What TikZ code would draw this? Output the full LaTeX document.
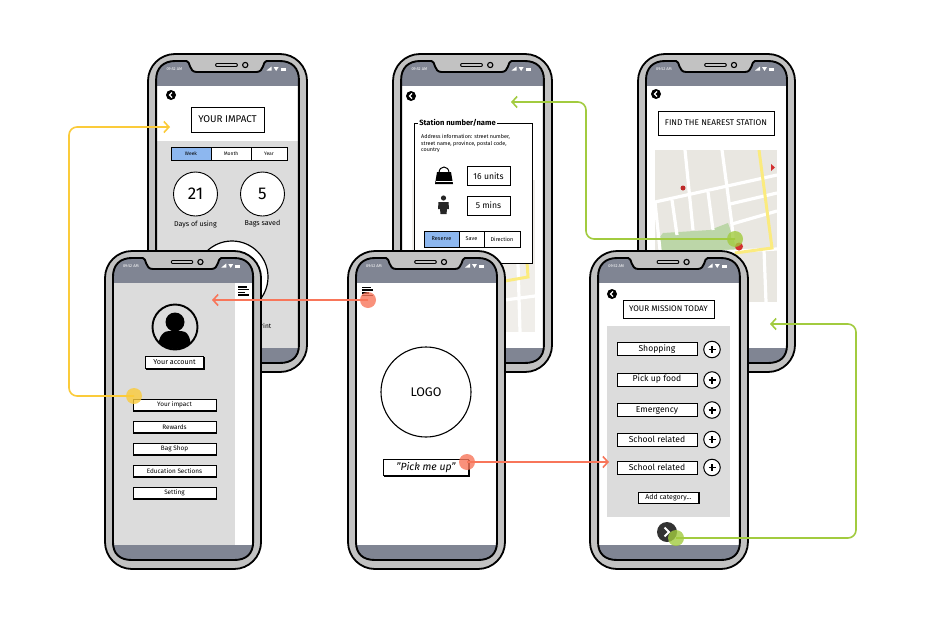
\documentclass[tikz,border=0pt]{standalone}
\usepackage{fontspec}
\setmainfont{Fira Sans}
\usetikzlibrary{arrows.meta,shadows,calc}
\definecolor{bezel}{HTML}{C2C2C2}
\definecolor{barc}{HTML}{808593}
\definecolor{panelc}{HTML}{DCDCDC}
\definecolor{bluec}{HTML}{8DB7EF}
\definecolor{mapc}{HTML}{E9E7E1}
\definecolor{parkc}{HTML}{BCD6A8}
\definecolor{roadc}{HTML}{FBEB7E}
\definecolor{redc}{HTML}{D32F2F}
\definecolor{yellowl}{HTML}{FBCB3A}
\definecolor{redl}{HTML}{F8765A}
\definecolor{greenl}{HTML}{A2CB3F}
\tikzset{
 fs/.style={font=\fontsize{#1}{#1}\selectfont},
 titlebox/.style={draw=black,line width=1pt,fill=white,inner sep=0pt},
 btn/.style={draw=black,line width=.8pt,fill=white,inner sep=0pt,
   copy shadow={draw=black,fill=black,opacity=1,shadow xshift=.8pt,shadow yshift=-.8pt}},
 seg/.style={draw=black,line width=.7pt,fill=white,inner sep=0pt,minimum height=13pt,fs=5},
 dotn/.style={circle,minimum size=16pt,inner sep=0pt,fill opacity=.8},
 flow/.style={line width=1.6pt,rounded corners=8pt,-{Straight Barb[length=5pt,width=11pt,line width=1.6pt]}},
 road/.style={white,line width=3.2pt},
}
\newcommand{\screenpath}{(8,26) .. controls (8,14) and (15,7) .. (27,7) -- (38,7)
  .. controls (42,7) and (40,18) .. (48,18) -- (107,18)
  .. controls (115,18) and (113,7) .. (117,7) -- (130,7)
  .. controls (142,7) and (149,14) .. (149,26) -- (149,291)
  .. controls (149,303) and (142,309) .. (130,309) -- (27,309)
  .. controls (15,309) and (8,303) .. (8,291) -- cycle}
\newcommand{\phonebase}[3]{%
 \begin{scope}[shift={(#1,#2)},xscale=#3]
  \foreach \a/\b in {46/58,64/87,92/115}{\draw[line width=2.2pt] (0,\a) -- (0,\b);}
  \draw[line width=2.2pt] (157,72) -- (157,94);
  \draw[line width=1.8pt,fill=bezel,rounded corners=27pt] (0,0) rectangle (157,318);
  \fill[white] \screenpath;
 \end{scope}}
\newcommand{\phonetop}[3]{%
 \begin{scope}[shift={(#1,#2)},xscale=#3]
  \begin{scope}
   \clip \screenpath;
   \fill[barc] (0,0) rectangle (157,32);
   \fill[barc] (0,294) rectangle (157,318);
  \end{scope}
  \draw[line width=1.9pt] \screenpath;
  \draw[line width=3.6pt,line cap=round] (68,11) -- (87,11);
  \draw[line width=1.4pt,bezel,line cap=round] (68,11) -- (87,11);
  \draw[line width=1.1pt,fill=bezel] (96,11) circle[radius=2.6];
  \node[white,fs=4,inner sep=0pt] at (26,15) {09:52 AM};
  \fill[white] (117,16.5) -- (122,16.5) -- (122,12.5) -- cycle;
  \fill[white] (124,13) -- (129,13) -- (126.5,17) -- cycle;
  \fill[white] (131,13.5) rectangle (136,16.5);
 \end{scope}}
\newcommand{\backicon}[2]{%
 \fill (#1,#2) circle[radius=5];
 \draw[white,line width=1.3pt] (#1+1,#2-2.5) -- (#1-1.5,#2) -- (#1+1,#2+2.5);}
\newcommand{\menuicon}[2]{%
 \draw[line width=1.5pt] (#1-5.5,#2-4) -- (#1+3,#2-4) (#1-5.5,#2-1.3) -- (#1+5.5,#2-1.3)
   (#1-5.5,#2+1.3) -- (#1+1.5,#2+1.3) (#1-5.5,#2+4) -- (#1+5.5,#2+4);}
\begin{document}
\begin{tikzpicture}[x=1pt,y=-1pt]
\path[use as bounding box,fill=white] (0,0) rectangle (927,624);
% ---- phone 1: impact
\phonebase{148}{54}{1.013}
\fill[panelc] (156,141) rectangle (299,350);
\backicon{171}{95}
\node[titlebox,minimum width=73pt,minimum height=25pt,fs=9.8] (impacttitle) at (227.5,119.5) {YOUR IMPACT};
\node[seg,fill=bluec,minimum width=40pt] (week) at (191,153.5) {Week};
\node[seg,minimum width=40pt] (month) at (231,153.5) {Month};
\node[seg,minimum width=36pt] (year) at (269,153.5) {Year};
\draw[line width=1.2pt] (287.3,147) -- (287.3,160.5) -- (172,160.5);
\node[circle,draw,fill=white,line width=.9pt,minimum size=44pt,inner sep=0pt,fs=17] (days) at (195.5,194) {21};
\node[circle,draw,fill=white,line width=.9pt,minimum size=44pt,inner sep=0pt,fs=17] (bags) at (262.5,194) {5};
\node[fs=7.1,inner sep=0pt] (dayslbl) at (195.5,224) {Days of using};
\node[fs=7.1,inner sep=0pt] (bagslbl) at (262.5,224) {Bags saved};
\node[circle,draw,fill=white,line width=1.2pt,minimum size=72pt,inner sep=0pt] (bigc) at (232,277) {};
\node[fs=6.6,inner sep=0pt] (rintlbl) at (266,325.5) {rint};
\phonetop{148}{54}{1.013}
% ---- phone 2: station
\phonebase{393}{54}{1.013}
\fill[mapc!70!white] (412,180) rectangle (535,332);
\draw[road] (505,300) -- (535,296);
\draw[road] (518,263) -- (520,332);
\draw[roadc,line width=3pt] (527,262) -- (528,277) -- (505,281);
\node[draw=black,line width=.9pt,fill=white,minimum width=118pt,minimum height=140pt,inner sep=0pt] (stpanel) at (473,193) {};
\node[fill=white,inner sep=1pt,font=\fontsize{7.6}{7.6}\selectfont\bfseries] (sttitle) at (457.5,122.5) {Station number/name};
\node[anchor=north west,inner sep=0pt,align=left,fs=5.4] (staddr) at (421,134.5) {Address information: street number,\\[1pt]street name, province, postal code,\\[1pt]country};
\begin{scope}
 \fill (435,184) -- (453,184) -- (451,172) -- (437,172) -- cycle;
 \draw[line width=1pt] (439,173) .. controls (439,165) and (449,165) .. (449,173);
 \draw[white,line width=.6pt] (435.5,181.5) -- (452.5,181.5);
\end{scope}
\node[draw,line width=.9pt,fill=white,minimum width=43pt,minimum height=19pt,inner sep=0pt,fs=8.6] (units) at (488.5,176) {16 units};
\fill[black!85] (443.5,198) circle[radius=2.6];
\fill[black!85] (438.5,202) -- (448.5,202) -- (449,209) -- (447,209) -- (446.5,214) -- (440.5,214) -- (440,209) -- (438,209) -- cycle;
\node[draw,line width=.9pt,fill=white,minimum width=43pt,minimum height=19pt,inner sep=0pt,fs=8.6] (mins) at (488.5,205.5) {5 mins};
\node[seg,fill=bluec,minimum width=35pt,minimum height=16pt,fs=5.5] (reserve) at (441.5,239) {Reserve};
\node[seg,minimum width=25pt,minimum height=16pt,fs=5.5] (save) at (471.5,239) {Save};
\node[seg,minimum width=36pt,minimum height=16pt,fs=5.5] (direction) at (502,239) {Direction};
\draw[line width=1.2pt] (520.3,231) -- (520.3,247.3) -- (424,247.3);
\backicon{411}{96}
\phonetop{393}{54}{1.013}
% ---- phone 3: map
\phonebase{638}{54}{1}
\backicon{656}{94}
\node[titlebox,minimum width=116pt,minimum height=24pt,fs=8.3] (findtitle) at (716,123) {FIND THE NEAREST STATION};
\fill[mapc] (655,150) rectangle (777,302);
\begin{scope}
 \clip (655,150) rectangle (777,302);
 \fill[parkc] (659,238) -- (663,233) -- (710,230) -- (728,223) -- (733,237) -- (737,252) -- (659,252) -- cycle;
 \draw[road] (655,202) -- (777,175);
 \draw[road] (685,150) -- (693,230);
 \draw[road] (722,150) -- (732,225) -- (733,240);
 \draw[road] (672,200) -- (677,235);
 \draw[road] (708,192) -- (713,230);
 \draw[road] (730,204) -- (777,193);
 \draw[road] (732,224) -- (777,211);
 \draw[road] (655,255) -- (777,249);
 \draw[road] (764,250) -- (766,302);
 \draw[road] (655,202) -- (660,250);
 \draw[roadc,line width=3pt] (759,150) -- (772,248) -- (735,253);
\end{scope}
\fill[redc!90!black] (683,188) circle[radius=2.5];
\fill[redc] (739,246.5) circle[radius=4];
\fill[redc] (771,164) -- (775,167.5) -- (771,171) -- cycle;
\phonetop{638}{54}{1}
% ---- phone 4: account
\phonebase{105}{251}{.994}
\fill[panelc] (113,283) rectangle (235,547);
\menuicon{243.5}{291}
\begin{scope}
 \path[clip] (175,327) circle[radius=22];
 \fill (175,322) circle[radius=9.5];
 \fill (158,350) .. controls (158,334) and (165,331) .. (169,331) -- (181,331) .. controls (187,331) and (191,336) .. (191,350) -- cycle;
\end{scope}
\draw[line width=1.9pt] (175,327) circle[radius=22.5];
\node[btn,minimum width=58pt,minimum height=12pt,fs=7.2] (youracc) at (174.5,362.5) {Your account};
\foreach \nm/\yy/\tt in {mimpact/405/Your impact,mrewards/427/Rewards,mbag/449/Bag Shop,medu/471/Education Sections,mset/493/Setting}{
 \node[btn,minimum width=83pt,minimum height=11.5pt,fs=6.4] (\nm) at (174.5,\yy) {\tt};
}
\phonetop{105}{251}{.994}
% ---- phone 5: home
\phonebase{348}{251}{1}
\menuicon{367.5}{291.5}
\node[circle,draw,line width=1.1pt,minimum size=90pt,inner sep=0pt,fs=12.5] (logo) at (426,392) {LOGO};
\node[draw,line width=.9pt,fill=white,minimum width=85pt,minimum height=16.5pt,inner sep=0pt,
 font=\fontsize{10.4}{10.4}\selectfont\itshape,copy shadow={draw=black,fill=black,opacity=1,shadow xshift=.8pt,shadow yshift=-.8pt}] (pick) at (426,467.5) {"Pick me up"};
\phonetop{348}{251}{1}
% ---- phone 6: mission
\phonebase{590}{251}{1.006}
\backicon{612}{294}
\node[titlebox,line width=.9pt,minimum width=91pt,minimum height=18pt,fs=8.1] (misstitle) at (668.5,309) {YOUR MISSION TODAY};
\fill[panelc] (607,326) rectangle (730,517);
\foreach \nm/\yy/\yb/\tt in {mshop/349/349.5/Shopping,mfood/379.5/380/Pick up food,meme/410/410/Emergency,mschool/439.5/439.5/School related,mschoolb/467.5/467.5/School related}{
 \node[draw,line width=.9pt,fill=white,minimum width=80pt,minimum height=13pt,inner sep=0pt,fs=8.6] (\nm) at (657,\yy) {\tt};
 \node[circle,draw,line width=1pt,fill=white,minimum size=16.5pt,inner sep=0pt] (\nm plus) at (712,\yb) {};
 \draw[line width=1.2pt] ($(\nm plus.center)+(-3.5,0)$) -- ($(\nm plus.center)+(3.5,0)$) ($(\nm plus.center)+(0,-3.5)$) -- ($(\nm plus.center)+(0,3.5)$);
}
\node[btn,minimum width=60pt,minimum height=11pt,fs=7] (addcat) at (668.5,497.5) {Add category...};
\fill[black!80] (667,532) circle[radius=10];
\draw[white,line width=1.8pt] (664.5,527.5) -- (669,532) -- (664.5,536.5);
\phonetop{590}{251}{1.006}
% ---- connectors
\node[dotn,fill=yellowl] (dy) at (134,396) {};
\node[dotn,fill=redl] (dra) at (368,300) {};
\node[dotn,fill=redl] (drb) at (467,462) {};
\node[dotn,fill=greenl] (dga) at (735,239) {};
\node[dotn,fill=greenl] (dgb) at (676,538) {};
\coordinate (ty) at (170,127);
\coordinate (byb) at (69,127);
\coordinate (tra) at (212,300);
\coordinate (trb) at (609,462);
\coordinate (tga) at (511,102);
\coordinate (bga) at (586,102);
\coordinate (tgb) at (770,324);
\coordinate (bgb) at (856,324);
\draw[flow,yellowl] (dy.center) -| (byb) -- (ty);
\draw[flow,redl] (dra.center) -- (tra);
\draw[flow,redl] (drb.center) -- (trb);
\draw[flow,greenl] (dga.center) -| (bga) -- (tga);
\draw[flow,greenl] (dgb.center) -| (bgb) -- (tgb);
\end{tikzpicture}
\end{document}
